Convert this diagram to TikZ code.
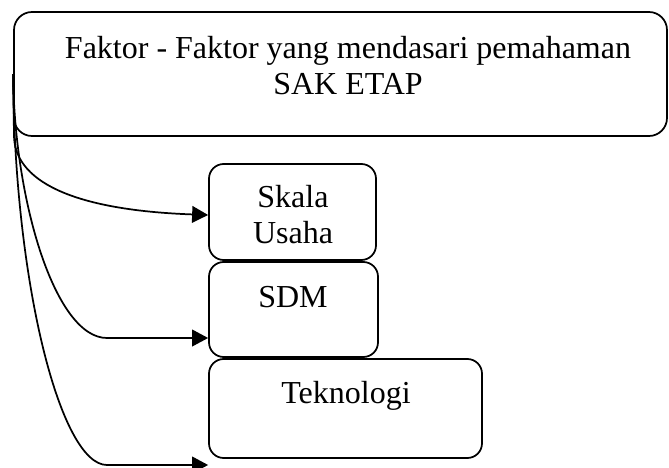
\documentclass[tikz,border=0pt]{standalone}
\usepackage{fontspec}
\setmainfont{Liberation Serif}
\usetikzlibrary{arrows.meta}
\begin{document}
\begin{tikzpicture}[x=0.75pt,y=-0.75pt,
  box/.style={draw,line width=1.3pt,inner sep=0pt},
  txt/.style={font=\fontsize{24}{27}\selectfont,align=center,inner sep=0pt,anchor=base},
  conn/.style={line width=1.3pt,-{Triangle[length=12pt,width=12.5pt]}}]
\useasboundingbox (0,0) rectangle (669,468);

\node[box,rounded corners=13.5pt,minimum width=489.75pt,minimum height=93pt] (main) at (340.5,74) {};
\node[txt] (maintext) at (348,94) {Faktor - Faktor yang mendasari pemahaman\\SAK ETAP};

\node[box,rounded corners=11pt,minimum width=125.25pt,minimum height=72pt] (skala) at (292.5,212) {};
\node[txt] (skalatext) at (293,243) {Skala\\Usaha};

\node[box,rounded corners=11pt,minimum width=126.75pt,minimum height=71.25pt] (sdm) at (293.5,309.5) {};
\node[txt] (sdmtext) at (293,307) {SDM};

\node[box,rounded corners=11pt,minimum width=204.75pt,minimum height=74.25pt] (tekno) at (345.5,408.5) {};
\node[txt] (teknotext) at (346,403) {Teknologi};

\coordinate (e1) at (skala.west |- 0,215);
\coordinate (e2) at (sdm.west |- 0,338);
\coordinate (e3) at (tekno.west |- 0,465);

\draw[conn] (main.west) -- (14,135) .. controls (14,180) and (70,210) .. (e1);
\draw[conn] (main.west) .. controls (14,200) and (55,338) .. (107,338) -- (e2);
\draw[conn] (main.west) .. controls (14,280) and (60,465) .. (107,465) -- (e3);
\end{tikzpicture}
\end{document}
